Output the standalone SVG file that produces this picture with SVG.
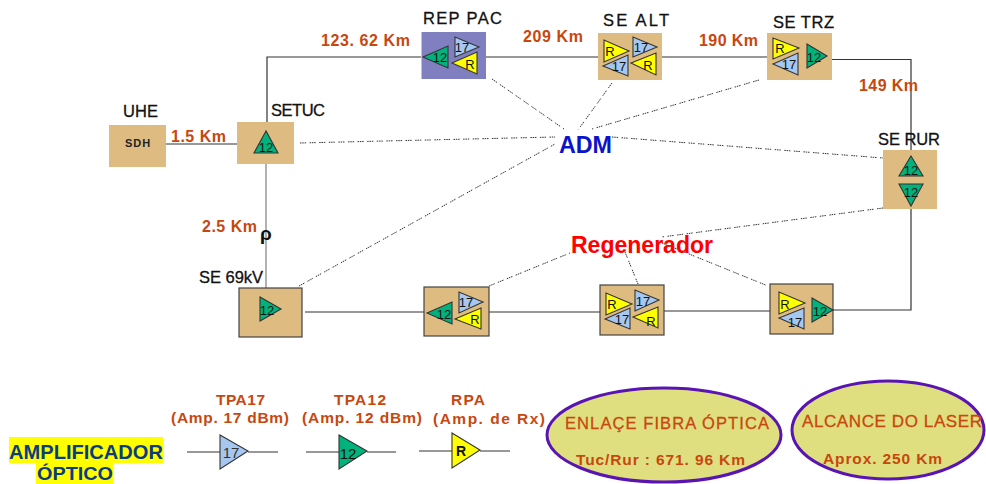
<svg xmlns="http://www.w3.org/2000/svg" width="986" height="484" viewBox="0 0 986 484">
<style>
text{font-family:"Liberation Sans",Arial,sans-serif}
.box{fill:#debb80}
.boxs{fill:#debb80;stroke:#444;stroke-width:1.2}
.g,.b,.y{stroke:#333;stroke-width:1.1;stroke-linejoin:miter}
.g{fill:#00b27c}.b{fill:#a6c8f0}.y{fill:#ffff00}
.n{font-size:16.500px;fill:#111;stroke:#111;stroke-width:.3}
.km{font-size:16px;font-weight:700;fill:#c8470f}
.t{font-size:13px;fill:#111;text-anchor:middle}
.ln{fill:none;stroke:#333;stroke-width:1.2}
.lg{fill:none;stroke:#888;stroke-width:1.3}
.dot{fill:none;stroke:#333;stroke-width:1;stroke-dasharray:1.500 .8 1.500 .8 1.500 3.500}
.leg{font-size:15.500px;font-weight:700;fill:#c8470f}
.el{fill:#dfdf80;stroke:#5a14b4;stroke-width:3}
</style>
<g id="connectors">
<path class="ln" d="M267 122V57H421M486 57H598M662 57H767M832 59.500H911V150M911 209V310H833M770 311H664M600 312H489M424 312H305M166 144H237"/>
<path class="lg" d="M266 164V288"/>
<path class="ln" d="M187 452H220M248 452H278M306 452H339M367 452H396M419 451H452M480 451H510"/>
<path class="dot" d="M492 79L564 129M612 83L578 130M759 80L592 129M300 143L555 137M612 137L883 158M299 286L555 144M883 208L662 237M489 286L570 253M625 252L638 284M662 243L768 286"/>
</g>
<g id="uhe"><rect class="box" x="109" y="125" width="57" height="42"/><text class="n" x="123" y="117" textLength="35">UHE</text><text x="138" y="147" text-anchor="middle" font-size="11" font-weight="700" fill="#222" letter-spacing="1">SDH</text></g>
<g id="setuc"><rect class="box" x="237" y="122" width="57" height="42"/><polygon class="g" points="266,131 254,153 278,153"/><text class="t" x="266" y="152">12</text><text class="n" x="271" y="116" textLength="54">SETUC</text></g>
<g id="rep-pac"><rect x="421.500" y="32" width="64.500" height="47" fill="#8080c0"/>
<polygon class="g" points="423,57 448,46 448,68"/><text class="t" x="440" y="62">12</text>
<polygon class="b" points="455,37 455,57 479,47"/><text class="t" x="462" y="52">17</text>
<polygon class="y" points="452,63 477,52 477,74"/><text class="t" x="470" y="69">R</text>
<text class="n" x="423" y="24" textLength="79">REP  PAC</text></g>
<g id="se-alt"><rect class="box" x="598" y="33" width="64" height="47"/>
<polygon class="y" points="604,40 604,62 629,51"/><text class="t" x="610" y="56">R</text>
<polygon class="b" points="633,37 633,57 657,47"/><text class="t" x="641" y="52">17</text>
<polygon class="b" points="603,66 628,55 628,76"/><text class="t" x="619" y="71">17</text>
<polygon class="y" points="631,63 656,53 656,75"/><text class="t" x="648" y="70">R</text>
<text class="n" x="603" y="26" textLength="66">SE  ALT</text></g>
<g id="se-trz"><rect class="box" x="767" y="33" width="65" height="47"/>
<polygon class="y" points="773,38 773,59 799,48"/><text class="t" x="780" y="53">R</text>
<polygon class="b" points="773,64 798,53 798,75"/><text class="t" x="789" y="69">17</text>
<polygon class="g" points="807,44 807,68 827,56"/><text class="t" x="814" y="62">12</text>
<text class="n" x="773" y="28" textLength="61">SE  TRZ</text></g>
<g id="se-rur"><rect class="box" x="883" y="150" width="54" height="59"/>
<polygon class="g" points="911,156 899,176 923,176"/><text class="t" x="911" y="175">12</text>
<polygon class="g" points="899,184 923,184 911,206"/><text class="t" x="911" y="197">12</text>
<text class="n" x="878" y="145" textLength="62">SE RUR</text></g>
<g id="se-69kv"><rect class="boxs" x="239" y="288" width="63" height="49"/><polygon class="g" points="260,297 260,321 281,309"/><text class="t" x="267" y="315">12</text><text class="n" x="199" y="283" textLength="64">SE 69kV</text></g>
<g id="reg-1"><rect class="boxs" x="424" y="287" width="65" height="49"/>
<polygon class="g" points="427,313 452,302 452,324"/><text class="t" x="444" y="319">12</text>
<polygon class="b" points="459,292 459,313 483,302"/><text class="t" x="466" y="307">17</text>
<polygon class="y" points="455,319 481,308 481,329"/><text class="t" x="475" y="324">R</text></g>
<g id="reg-2"><rect class="boxs" x="600" y="285" width="64" height="50"/>
<polygon class="y" points="606,293 606,315 632,304"/><text class="t" x="612" y="309">R</text>
<polygon class="b" points="635,290 635,311 659,300"/><text class="t" x="643" y="306">17</text>
<polygon class="b" points="605,319 630,308 630,329"/><text class="t" x="622" y="324">17</text>
<polygon class="y" points="633,317 658,307 658,328"/><text class="t" x="651" y="326">R</text></g>
<g id="reg-3"><rect class="boxs" x="770" y="284" width="63" height="50"/>
<polygon class="y" points="779,292 779,314 805,303"/><text class="t" x="785" y="309">R</text>
<polygon class="b" points="779,318 804,308 804,329"/><text class="t" x="795" y="327">17</text>
<polygon class="g" points="812,298 812,322 833,310"/><text class="t" x="820" y="316">12</text></g>
<g id="km-labels">
<text class="km" x="321" y="46" textLength="89">123. 62 Km</text><text class="km" x="523" y="42" textLength="60">209 Km</text><text class="km" x="699" y="46" textLength="59">190 Km</text><text class="km" x="859" y="91" textLength="59">149 Km</text><text class="km" x="171" y="142" textLength="55">1.5 Km</text><text class="km" x="202" y="232" textLength="55">2.5 Km</text>
</g>
<text x="266" y="240" font-size="19" font-weight="700" text-anchor="middle" fill="#111">ρ</text>
<g id="adm"><text x="559" y="153" font-size="23" font-weight="700" fill="#0a14c8" textLength="53" lengthAdjust="spacingAndGlyphs">ADM</text></g>
<g id="regenerador"><text x="571" y="253" font-size="23" font-weight="700" fill="#ff0000" textLength="142" lengthAdjust="spacingAndGlyphs">Regenerador</text></g>
<g id="legend-title"><rect x="9" y="437" width="154" height="26" fill="#ffff00"/><rect x="36" y="463" width="77" height="21" fill="#ffff00"/><text x="9" y="459" font-size="20" font-weight="700" fill="#0a3c82" textLength="154" lengthAdjust="spacingAndGlyphs">AMPLIFICADOR</text><text x="37" y="480" font-size="19" font-weight="700" fill="#0a3c82" textLength="76" lengthAdjust="spacingAndGlyphs">ÓPTICO</text></g>
<g id="tpa17"><text class="leg" x="216" y="405" textLength="49">TPA17</text><text class="leg" x="171" y="423" textLength="118">(Amp. 17 dBm)</text><polygon class="b" points="220,435 220,469 248,451"/><text x="231" y="458" font-size="15" fill="#333" text-anchor="middle">17</text></g>
<g id="tpa12"><text class="leg" x="334" y="405" textLength="52">TPA12</text><text class="leg" x="302" y="423" textLength="120">(Amp. 12 dBm)</text><polygon class="g" points="339,435 339,469 367,451"/><text x="348" y="459" font-size="15" fill="#111" text-anchor="middle">12</text></g>
<g id="rpa"><text class="leg" x="451" y="405" textLength="34">RPA</text><text class="leg" x="433" y="424" textLength="112">(Amp. de Rx)</text><polygon class="y" points="452,433 452,468 480,450"/><text x="461" y="456" font-size="14" font-weight="700" fill="#111" text-anchor="middle">R</text></g>
<g id="enlace"><ellipse class="el" cx="664" cy="435" rx="117" ry="47"/><text x="565" y="429" font-size="16.500" fill="#c8470f" stroke="#c8470f" stroke-width=".3" textLength="204">ENLAÇE  FIBRA ÓPTICA</text><text x="576" y="465" font-size="15.500" font-weight="700" fill="#c8470f" textLength="169">Tuc/Rur : 671. 96 Km</text></g>
<g id="alcance"><ellipse class="el" cx="888" cy="430" rx="96" ry="49"/><text x="802" y="427" font-size="17" fill="#c8470f" stroke="#c8470f" stroke-width=".3" textLength="180">ALCANCE DO LASER</text><text x="823" y="464" font-size="15.500" font-weight="700" fill="#c8470f" textLength="119">Aprox. 250 Km</text></g>
</svg>
